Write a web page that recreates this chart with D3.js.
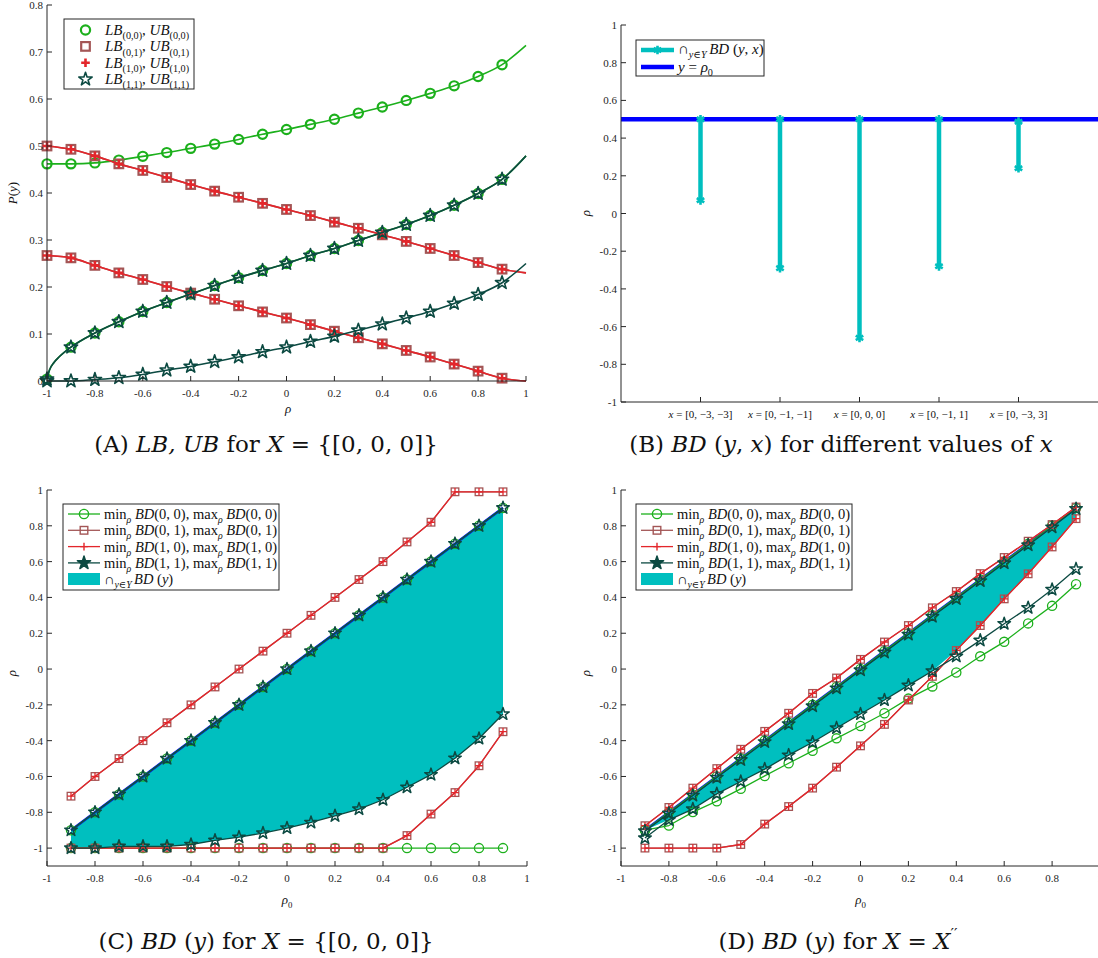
<!DOCTYPE html>
<html><head><meta charset="utf-8">
<script src="https://cdn.jsdelivr.net/npm/d3@7"></script>
<style>body{margin:0;background:#fff} text{white-space:pre}</style>
</head><body><svg id="c" width="1098" height="958"></svg>
<script>
// ================= DATA =================
// Panel A : LB,UB for X={[0,0,0]}
const rhoA = [-1,-0.9,-0.8,-0.7,-0.6,-0.5,-0.4,-0.3,-0.2,-0.1,0,0.1,0.2,0.3,0.4,0.5,0.6,0.7,0.8,0.9,1.0];
const aTopGreen = [0.462,0.462,0.464,0.470,0.478,0.486,0.495,0.504,0.514,0.525,0.535,0.546,0.557,0.570,0.583,0.597,0.612,0.628,0.648,0.673,0.714];
const aRedUpper = [0.500,0.493,0.479,0.462,0.448,0.433,0.418,0.404,0.391,0.378,0.365,0.352,0.338,0.325,0.311,0.297,0.282,0.267,0.252,0.238,0.230];
const aRedLower = [0.267,0.262,0.246,0.230,0.216,0.201,0.187,0.174,0.160,0.147,0.134,0.120,0.106,0.092,0.079,0.065,0.051,0.036,0.021,0.006,0.000];
const aMid      = [0.004,0.072,0.102,0.126,0.148,0.167,0.185,0.203,0.220,0.235,0.250,0.267,0.282,0.299,0.316,0.333,0.352,0.374,0.399,0.429,0.479];
const aLow      = [0.000,0.000,0.003,0.007,0.014,0.023,0.031,0.041,0.051,0.062,0.072,0.084,0.095,0.108,0.121,0.134,0.148,0.165,0.184,0.209,0.250];
const aMidStartRho = [-0.99,-0.97,-0.95];
const aMidStartVal = [0.023,0.040,0.051];
const aTicksX = [-1,-0.8,-0.6,-0.4,-0.2,0,0.2,0.4,0.6,0.8,1];
const aTicksY = [0,0.1,0.2,0.3,0.4,0.5,0.6,0.7,0.8];

// Panel B : BD(y,x) for different x
const bCategories = ["[0, \u22123, \u22123]","[0, \u22121, \u22121]","[0, 0, 0]","[0, \u22121, 1]","[0, \u22123, 3]"];
const bLower = [0.07,-0.29,-0.66,-0.28,0.24];
const bUpper = [0.50,0.50,0.50,0.50,0.487];
const bRho0 = 0.5;
const bTicksY = [-1,-0.8,-0.6,-0.4,-0.2,0,0.2,0.4,0.6,0.8,1];

// Panels C and D : rho0 grid
const rho0 = [-0.9,-0.8,-0.7,-0.6,-0.5,-0.4,-0.3,-0.2,-0.1,0,0.1,0.2,0.3,0.4,0.5,0.6,0.7,0.8,0.9];
// Panel C
const cMax00 = [-0.9,-0.8,-0.7,-0.6,-0.5,-0.4,-0.3,-0.2,-0.1,0,0.1,0.2,0.3,0.4,0.5,0.6,0.7,0.8,0.9];
const cMin00 = [-1,-1,-1,-1,-1,-1,-1,-1,-1,-1,-1,-1,-1,-1,-1,-1,-1,-1,-1];
const cMax01 = [-0.71,-0.6,-0.5,-0.4,-0.3,-0.2,-0.1,0,0.1,0.2,0.3,0.4,0.5,0.6,0.71,0.82,0.99,0.99,0.99];
const cMin01 = [-1,-1,-1,-1,-1,-1,-1,-1,-1,-1,-1,-1,-1,-1,-0.93,-0.81,-0.69,-0.54,-0.35];
const cMax10 = cMax01.slice();
const cMin10 = cMin01.slice();
const cMax11 = [-0.9,-0.8,-0.7,-0.6,-0.5,-0.4,-0.3,-0.2,-0.1,0,0.1,0.2,0.3,0.4,0.5,0.6,0.7,0.8,0.9];
const cMin11 = [-1.0,-1.0,-0.99,-0.99,-0.99,-0.98,-0.957,-0.939,-0.916,-0.888,-0.857,-0.82,-0.782,-0.73,-0.66,-0.59,-0.498,-0.388,-0.251];
// Panel D
const dMax00 = [-0.9,-0.8,-0.7,-0.6,-0.5,-0.4,-0.3,-0.2,-0.1,0,0.1,0.2,0.3,0.4,0.5,0.6,0.7,0.8,0.9];
const dMin00 = [-0.9,-0.874,-0.799,-0.738,-0.669,-0.597,-0.526,-0.457,-0.387,-0.318,-0.247,-0.165,-0.097,-0.019,0.071,0.152,0.255,0.353,0.474];
const dMax01 = [-0.875,-0.773,-0.665,-0.556,-0.448,-0.348,-0.247,-0.136,-0.05,0.054,0.151,0.243,0.342,0.433,0.533,0.623,0.714,0.807,0.905];
const dMin01 = [-1,-1,-1,-1,-0.98,-0.866,-0.768,-0.665,-0.548,-0.429,-0.309,-0.173,-0.041,0.104,0.243,0.392,0.532,0.682,0.840];
const dMax10 = dMax01.slice();
const dMin10 = dMin01.slice();
const dMax11 = [-0.905,-0.806,-0.706,-0.606,-0.507,-0.407,-0.307,-0.207,-0.107,-0.006,0.093,0.193,0.293,0.392,0.492,0.592,0.692,0.792,0.895];
const dMin11 = [-0.944,-0.842,-0.782,-0.697,-0.628,-0.559,-0.481,-0.409,-0.329,-0.251,-0.173,-0.091,-0.011,0.071,0.160,0.253,0.342,0.444,0.559];
const cdTicksX = [-1,-0.8,-0.6,-0.4,-0.2,0,0.2,0.4,0.6,0.8,1];
const cdTicksY = [-1,-0.8,-0.6,-0.4,-0.2,0,0.2,0.4,0.6,0.8,1];

// ================= STYLE =================
const FONT = "'Liberation Serif','DejaVu Serif',serif";
const CAPFONT = "'DejaVu Serif','Liberation Serif',serif";
const GREEN="#1cb01c", RED="#e3262b", BROWN="#a35656", DARK="#0c4a42", CYAN="#00bfbf", BLUE="#0000ff", AX="#262626";
const svg = d3.select("#c");
svg.append("rect").attr("width",1098).attr("height",958).attr("fill","#fff");

function rich(g,x,y,segs,size,anchor,rot,font){
  const t=g.append("text").attr("x",x).attr("y",y).attr("font-family",font||FONT)
    .attr("font-size",size).attr("text-anchor",anchor||"start").attr("fill","#111");
  if(rot) t.attr("transform",`rotate(${rot},${x},${y})`);
  let shift=0;
  segs.forEach(s=>{
    const target = s.sub? 0.28*size : (s.sup? -0.42*size : 0);
    const ts=t.append("tspan").text(s.t);
    if(target!==shift){ ts.attr("dy",target-shift); shift=target; }
    if(s.sub||s.sup) ts.attr("font-size",size*0.68);
    if(s.it) ts.attr("font-style","italic");
  });
  return t;
}
const fmt = v => Math.abs(v)<1e-9 ? "0" : String(+v.toFixed(2));

function frame(g,x,y,xt,yt){
  const [x0,x1]=x.range(), [y0,y1]=y.range();
  g.append("line").attr("x1",x0).attr("x2",x0).attr("y1",y0).attr("y2",y1).attr("stroke",AX);
  g.append("line").attr("x1",x0).attr("x2",x1).attr("y1",y0).attr("y2",y0).attr("stroke",AX);
  if(xt) xt.forEach(v=>{
    g.append("line").attr("x1",x(v)).attr("x2",x(v)).attr("y1",y0).attr("y2",y0-5).attr("stroke",AX);
    g.append("text").attr("x",x(v)).attr("y",y0+16).attr("text-anchor","middle")
      .attr("font-family",FONT).attr("font-size",11).attr("fill",AX).text(fmt(v));
  });
  yt.forEach(v=>{
    g.append("line").attr("x1",x0).attr("x2",x0+5).attr("y1",y(v)).attr("y2",y(v)).attr("stroke",AX);
    g.append("text").attr("x",x0-4).attr("y",y(v)+4).attr("text-anchor","end")
      .attr("font-family",FONT).attr("font-size",11).attr("fill",AX).text(fmt(v));
  });
}

function marker(g,type,cx,cy,col,sz,sw,fill){
  if(type==="circle"){
    g.append("circle").attr("cx",cx).attr("cy",cy).attr("r",sz).attr("fill",fill||"none").attr("stroke",col).attr("stroke-width",sw);
  } else if(type==="square"){
    g.append("rect").attr("x",cx-sz).attr("y",cy-sz).attr("width",2*sz).attr("height",2*sz).attr("fill",fill||"none").attr("stroke",col).attr("stroke-width",sw);
  } else if(type==="plus"){
    g.append("path").attr("d",`M${cx-sz},${cy}H${cx+sz}M${cx},${cy-sz}V${cy+sz}`).attr("stroke",col).attr("stroke-width",sw).attr("fill","none");
  } else if(type==="star"){
    g.append("path").attr("transform",`translate(${cx},${cy})`).attr("d",d3.symbol(d3.symbolStar,sz*sz*2.2)())
      .attr("stroke",col).attr("stroke-width",sw).attr("fill",fill||"none").attr("stroke-linejoin","round");
  } else if(type==="asterisk"){
    g.append("path").attr("transform",`translate(${cx},${cy})`).attr("d",d3.symbol(d3.symbolAsterisk,sz*sz*3)())
      .attr("stroke",col).attr("stroke-width",sw).attr("fill","none");
  }
}

function series(g,x,y,xs,ys,col,lw,mtype,mcol,msz,msw,curve,mfill,markerFilter){
  const pts = xs.map((v,i)=>[v,ys[i]]);
  const line = d3.line().x(d=>x(d[0])).y(d=>y(d[1])).curve(curve||d3.curveLinear);
  if(lw>0) g.append("path").attr("d",line(pts)).attr("fill","none").attr("stroke",col).attr("stroke-width",lw).attr("stroke-linejoin","round");
  if(mtype) pts.forEach(p=>{ if(!markerFilter||markerFilter(p)) marker(g,mtype,x(p[0]),y(p[1]),mcol,msz,msw,mfill); });
}

// ================= PANEL A =================
(function(){
  const g=svg.append("g");
  const x=d3.scaleLinear([-1,1],[47,526]), y=d3.scaleLinear([0,0.8],[381,5]);
  const mk = p=>p[0]<0.95;
  const curve=d3.curveMonotoneX;
  const midX=[rhoA[0]].concat(aMidStartRho, rhoA.slice(1));
  const midY=[aMid[0]].concat(aMidStartVal, aMid.slice(1));
  const midMk = p=>rhoA.slice(0,20).some(r=>Math.abs(r-p[0])<1e-9);
  series(g,x,y,rhoA,aTopGreen,GREEN,1.6,"circle",GREEN,4.6,2.2,curve,null,mk);
  series(g,x,y,midX,midY,GREEN,1.6,"circle",GREEN,4.6,2.2,curve,null,midMk);
  series(g,x,y,rhoA,aRedUpper,BROWN,1.6,"square",BROWN,4.3,2.2,curve,null,mk);
  series(g,x,y,rhoA,aRedLower,BROWN,1.6,"square",BROWN,4.3,2.2,curve,null,mk);
  series(g,x,y,rhoA,aRedUpper,RED,1.6,"plus",RED,4.3,2.6,curve,null,mk);
  series(g,x,y,rhoA,aRedLower,RED,1.6,"plus",RED,4.3,2.6,curve,null,mk);
  series(g,x,y,midX,midY,DARK,1.6,"star",DARK,5.0,1.6,curve,null,midMk);
  series(g,x,y,rhoA,aLow,DARK,1.6,"star",DARK,5.0,1.6,curve,null,mk);
  frame(g,x,y,aTicksX,aTicksY);
  rich(g,17,193,[{t:"P",it:1},{t:"("},{t:"y",it:1},{t:")"}],13,"middle",-90);
  rich(g,288,413,[{t:"\u03c1",it:1}],13,"middle");
  const L=g.append("g");
  L.append("rect").attr("x",64).attr("y",19).attr("width",130).attr("height",70).attr("fill","#fff").attr("stroke",AX).attr("stroke-width",1);
  const rows=[["circle",GREEN,"(0,0)"],["square",BROWN,"(0,1)"],["plus",RED,"(1,0)"],["star",DARK,"(1,1)"]];
  rows.forEach((r,i)=>{
    const cy=30+i*16.4;
    const sz = r[0]==="star"?5.0:(r[0]==="circle"?4.6:4.3);
    marker(L,r[0],85.5,cy,r[1],sz,r[0]==="star"?1.6:(r[0]==="plus"?2.6:2.2));
    rich(L,105,cy+5,[{t:"LB",it:1},{t:r[2],sub:1},{t:", "},{t:"UB",it:1},{t:r[2],sub:1}],15,"start");
  });
  rich(g,266,452,[{t:"(A) "},{t:"LB, UB",it:1},{t:" for "},{t:"X",it:1},{t:" = {[0, 0, 0]}"}],23,"middle",0,CAPFONT);
})();

// ================= PANEL B =================
(function(){
  const g=svg.append("g");
  const x=d3.scaleLinear([0,6],[621,1098]), y=d3.scaleLinear([-1,1],[402,25]);
  const cats=bCategories.map((c,i)=>i+1);
  g.append("line").attr("x1",x(0)).attr("x2",x(6)).attr("y1",y(bRho0)).attr("y2",y(bRho0)).attr("stroke",BLUE).attr("stroke-width",4.5);
  cats.forEach((c,i)=>{
    g.append("line").attr("x1",x(c)).attr("x2",x(c)).attr("y1",y(bLower[i])).attr("y2",y(bUpper[i])).attr("stroke",CYAN).attr("stroke-width",4.5);
    marker(g,"asterisk",x(c),y(bLower[i]),CYAN,4.2,2.6);
    marker(g,"asterisk",x(c),y(bUpper[i]),CYAN,4.2,2.6);
  });
  frame(g,x,y,null,bTicksY);
  const y0=y.range()[0];
  cats.forEach((c,i)=>{
    g.append("line").attr("x1",x(c)).attr("x2",x(c)).attr("y1",y0).attr("y2",y0-5).attr("stroke",AX);
    rich(g,x(c),y0+16,[{t:"x",it:1},{t:" = "+bCategories[i]}],11,"middle");
  });
  rich(g,590,213,[{t:"\u03c1",it:1}],13,"middle",-90);
  const L=g.append("g");
  L.append("rect").attr("x",636).attr("y",40).attr("width",128).attr("height",36).attr("fill","#fff").attr("stroke",AX);
  L.append("line").attr("x1",641).attr("x2",674).attr("y1",50).attr("y2",50).attr("stroke",CYAN).attr("stroke-width",4.5);
  marker(L,"asterisk",657.5,50,CYAN,4.2,2.6);
  rich(L,678,54,[{t:"\u2229"},{t:"y\u2208Y ",it:1,sub:1},{t:"BD",it:1},{t:" ("},{t:"y",it:1},{t:", "},{t:"x",it:1},{t:")"}],15,"start");
  L.append("line").attr("x1",641).attr("x2",674).attr("y1",67).attr("y2",67).attr("stroke",BLUE).attr("stroke-width",4.5);
  rich(L,678,72,[{t:"y",it:1},{t:" = "},{t:"\u03c1",it:1},{t:"0",sub:1}],15,"start");
  rich(g,841,452,[{t:"(B) "},{t:"BD",it:1},{t:" ("},{t:"y",it:1},{t:", "},{t:"x",it:1},{t:") for different values of "},{t:"x",it:1}],23,"middle",0,CAPFONT);
})();

// ================= PANELS C & D =================
function bdPanel(xr, D, legendX, captionX, captionSegs, ylabX){
  const g=svg.append("g");
  const x=d3.scaleLinear([-1,1],xr), y=d3.scaleLinear([-1.1,1],[866,490]);
  const lower=rho0.map((r,i)=>Math.max(D.min00[i],D.min01[i],D.min10[i],D.min11[i]));
  const upper=rho0.map((r,i)=>Math.min(D.max00[i],D.max01[i],D.max10[i],D.max11[i]));
  const area=d3.area().x((d,i)=>x(rho0[i])).y0((d,i)=>y(lower[i])).y1((d,i)=>y(upper[i]));
  g.append("path").attr("d",area(rho0)).attr("fill",CYAN).attr("stroke","none");
  g.append("path").attr("d",d3.line().x(d=>x(d)).y(d=>y(d))(rho0)).attr("stroke",BLUE).attr("stroke-width",2.6).attr("fill","none");
  const lw=1.3;
  series(g,x,y,rho0,D.max00,GREEN,lw,"circle",GREEN,4.6,1.3);
  series(g,x,y,rho0,D.min00,GREEN,lw,"circle",GREEN,4.6,1.3);
  series(g,x,y,rho0,D.max01,BROWN,lw,"square",BROWN,3.8,1.3);
  series(g,x,y,rho0,D.min01,BROWN,lw,"square",BROWN,3.8,1.3);
  series(g,x,y,rho0,D.max10,RED,lw,"plus",RED,3.8,1.3);
  series(g,x,y,rho0,D.min10,RED,lw,"plus",RED,3.8,1.3);
  series(g,x,y,rho0,D.max11,DARK,lw,"star",DARK,4.7,1.5);
  series(g,x,y,rho0,D.min11,DARK,lw,"star",DARK,4.7,1.5);
  frame(g,x,y,cdTicksX,cdTicksY);
  rich(g,ylabX,673,[{t:"\u03c1",it:1}],13,"middle",-90);
  rich(g,x(0),904,[{t:"\u03c1",it:1},{t:"0",sub:1}],13,"middle");
  const L=g.append("g"), bx=legendX;
  L.append("rect").attr("x",bx).attr("y",504).attr("width",216).attr("height",86).attr("fill","#fff").attr("stroke",AX);
  const rows=[["circle",GREEN,"(0, 0)"],["square",BROWN,"(0, 1)"],["plus",RED,"(1, 0)"],["star",DARK,"(1, 1)"]];
  rows.forEach((r,i)=>{
    const cy=514+i*16.3;
    L.append("line").attr("x1",bx+5).attr("x2",bx+37).attr("y1",cy).attr("y2",cy).attr("stroke",r[1]).attr("stroke-width",1.3);
    marker(L,r[0],bx+21,cy,r[1],r[0]==="star"?5.0:(r[0]==="circle"?4.6:3.8),1.4,r[0]==="star"?DARK:null);
    rich(L,bx+41,cy+5,[{t:"min"},{t:"\u03c1",it:1,sub:1},{t:" BD",it:1},{t:r[2]+", max"},{t:"\u03c1",it:1,sub:1},{t:" BD",it:1},{t:r[2]}],14.5,"start");
  });
  L.append("rect").attr("x",bx+5).attr("y",573).attr("width",32).attr("height",12).attr("fill",CYAN);
  rich(L,bx+41,584,[{t:"\u2229"},{t:"y\u2208Y ",it:1,sub:1},{t:"BD",it:1},{t:" ("},{t:"y",it:1},{t:")"}],14.5,"start");
  rich(g,captionX,949,captionSegs,23,"middle",0,CAPFONT);
}
bdPanel([47,527],{max00:cMax00,min00:cMin00,max01:cMax01,min01:cMin01,max10:cMax10,min10:cMin10,max11:cMax11,min11:cMin11},
  63,266,[{t:"(C) "},{t:"BD",it:1},{t:" ("},{t:"y",it:1},{t:") for "},{t:"X",it:1},{t:" = {[0, 0, 0]}"}],16);
bdPanel([621,1100],{max00:dMax00,min00:dMin00,max01:dMax01,min01:dMin01,max10:dMax10,min10:dMin10,max11:dMax11,min11:dMin11},
  636,838,[{t:"(D) "},{t:"BD",it:1},{t:" ("},{t:"y",it:1},{t:") for "},{t:"X",it:1},{t:" = "},{t:"X",it:1},{t:"\u2032\u2032",sup:1}],590);
</script></body></html>
